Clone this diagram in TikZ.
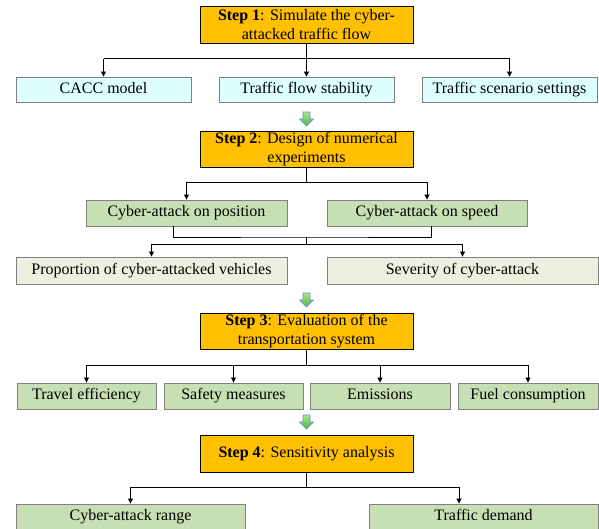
\documentclass[tikz,border=0pt]{standalone}
\usepackage{fontspec}
\setmainfont{Liberation Serif}
\usetikzlibrary{arrows.meta,calc}
\definecolor{stepor}{HTML}{FFC000}
\definecolor{cyanbox}{HTML}{DDFFFF}
\definecolor{greenbox}{HTML}{C6E0B4}
\definecolor{palebox}{HTML}{EBF1DE}
\definecolor{boxline}{HTML}{808080}
\definecolor{arrtop}{HTML}{A9E58C}
\definecolor{arrbot}{HTML}{4CB848}
\definecolor{arredge}{HTML}{6A8FC0}
\tikzset{
  base/.style={rectangle, inner sep=0pt, align=center, font=\fontsize{16}{19}\selectfont},
  oneline/.style={text height=11pt, text depth=3.5pt},
  stepbox/.style={base, draw=black, line width=1pt, fill=stepor, minimum width=213, minimum height=37},
  cyanb/.style={base, oneline, draw=boxline, line width=0.9pt, fill=cyanbox, minimum height=25},
  greenb/.style={base, oneline, draw=boxline, line width=0.9pt, fill=greenbox, minimum height=26},
  paleb/.style={base, oneline, draw=boxline, line width=0.9pt, fill=palebox, minimum height=27},
  stem/.style={line width=1.4pt},
  conn/.style={line width=0.8pt},
  arr/.style={line width=0.8pt, -{Triangle[length=5pt,width=5pt]}},
}
\newcommand{\greenarrow}[2]{% x, ytop
  \shade[top color=arrtop, bottom color=arrbot, draw=arredge, line width=0.6pt]
    (#1-3.5,#2) -- (#1+3.5,#2) -- (#1+3.5,#2+7) -- (#1+7,#2+7) -- (#1,#2+14)
    -- (#1-7,#2+7) -- (#1-3.5,#2+7) -- cycle;}
\begin{document}
\begin{tikzpicture}[x=1pt,y=-1pt]
\clip (0,0) rectangle (599,528);
\fill[white] (0,0) rectangle (599,528);

% Step 1
\node[stepbox] (s1) at (306.5,24.5) {\textbf{Step 1}: Simulate the cyber-\\attacked traffic flow};
\node[cyanb, minimum width=175] (r1a) at (103.5,89.5) {CACC model};
\node[cyanb, minimum width=175] (r1b) at (306.5,89.5) {Traffic flow stability};
\node[cyanb, minimum width=175] (r1c) at (509.5,89.5) {Traffic scenario settings};
\coordinate (j1) at (306.5,58.5);
\draw[stem] (s1.south) -- (j1);
\draw[conn] (j1 -| r1a.north) -- (j1 -| r1c.north);
\draw[arr] (j1 -| r1a.north) -- (r1a.north);
\draw[arr] (j1) -- (r1b.north);
\draw[arr] (j1 -| r1c.north) -- (r1c.north);

\greenarrow{306.5}{112}

% Step 2
\node[stepbox, minimum height=36] (s2) at (306.5,149) {\textbf{Step 2}: Design of numerical\\experiments};
\node[greenb, minimum width=201] (r2a) at (186.5,213) {Cyber-attack on position};
\node[greenb, minimum width=200] (r2b) at (427,213) {Cyber-attack on speed};
\coordinate (j2) at (306.5,182);
\draw[stem] (s2.south) -- (j2);
\draw[conn] (j2 -| r2a.north) -- (j2 -| r2b.north);
\draw[arr] (j2 -| r2a.north) -- (r2a.north);
\draw[arr] (j2 -| r2b.north) -- (r2b.north);

\node[paleb, minimum width=271] (r3a) at (151.5,270.5) {Proportion of cyber-attacked vehicles};
\node[paleb, minimum width=271] (r3b) at (462.5,270.5) {Severity of cyber-attack};
\coordinate (m1) at ([xshift=-13.5pt]r2a.south);
\coordinate (m2) at ([xshift=4pt]r2b.south);
\coordinate (j3) at (306.5,237);
\coordinate (j4) at (306.5,244);
\draw[conn] (m1) |- (j3) -| (m2);
\draw[conn] (j3) -- (j4);
\draw[conn] (j4 -| r3a.north) -- (j4 -| r3b.north);
\draw[arr] (j4 -| r3a.north) -- (r3a.north);
\draw[arr] (j4 -| r3b.north) -- (r3b.north);

\greenarrow{306.5}{293}

% Step 3
\node[stepbox, minimum height=36] (s3) at (306.5,331) {\textbf{Step 3}: Evaluation of the\\transportation system};
\node[greenb, minimum width=139] (r4a) at (86.5,396) {Travel efficiency};
\node[greenb, minimum width=139] (r4b) at (233.5,396) {Safety measures};
\node[greenb, minimum width=140] (r4c) at (380,396) {Emissions};
\node[greenb, minimum width=140] (r4d) at (528,396) {Fuel consumption};
\coordinate (j5) at (306.5,365);
\draw[stem] (s3.south) -- (j5);
\draw[conn] (j5 -| r4a.north) -- (j5 -| r4d.north);
\foreach \n in {r4a,r4b,r4c,r4d} \draw[arr] (j5 -| \n.north) -- (\n.north);

\greenarrow{306.5}{415}

% Step 4
\node[stepbox, oneline] (s4) at (306.5,453.5) {\textbf{Step 4}: Sensitivity analysis};
\node[greenb, minimum width=229] (r5a) at (130.5,517) {Cyber-attack range};
\node[greenb, minimum width=229] (r5b) at (483.5,517) {Traffic demand};
\coordinate (j6) at (306.5,487);
\coordinate (t5b) at ([xshift=-24.5pt]r5b.north);
\draw[stem] (s4.south) -- (j6);
\draw[conn] (j6 -| r5a.north) -- (j6 -| t5b);
\draw[arr] (j6 -| r5a.north) -- (r5a.north);
\draw[arr] (j6 -| t5b) -- (t5b);
\end{tikzpicture}
\end{document}
